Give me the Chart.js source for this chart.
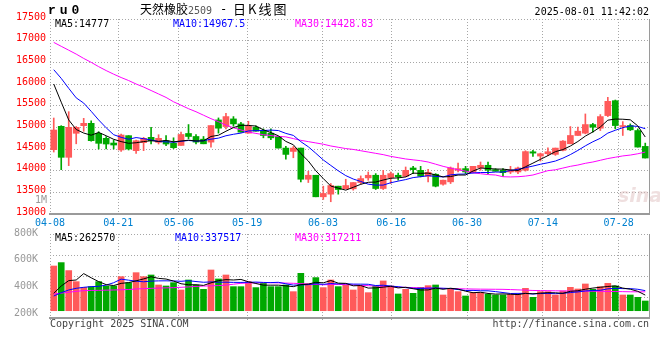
<!DOCTYPE html>
<html><head><meta charset="utf-8">
<script src="https://cdn.jsdelivr.net/npm/chart.js@4.4.1/dist/chart.umd.min.js"></script>
<style>
html,body{margin:0;padding:0;background:#fff;}
#wrap{position:relative;width:660px;height:360px;overflow:hidden;background:#fff;}
canvas{position:absolute;left:0;}
.t{position:absolute;white-space:nowrap;font-family:"DejaVu Sans Mono",monospace;font-size:10px;line-height:12px;z-index:5;}
</style></head><body>
<div id="wrap">
<canvas id="k" width="660" height="232" style="top:0;width:660px;height:232px"></canvas>
<canvas id="v" width="660" height="136" style="top:224px;width:660px;height:136px"></canvas>
<div class="t" style="left:48px;top:4px;font-family:'Liberation Mono',monospace;font-weight:bold;font-size:13px;line-height:14px;letter-spacing:4px;color:#000">ru0</div>
<div class="t" style="left:140px;top:1px;font-family:'Noto Sans CJK SC',sans-serif;font-size:12px;line-height:15px;color:#000">天然橡胶<span style="font-family:'DejaVu Sans Mono',monospace;font-size:10px;color:#555">2509</span></div>
<div class="t" style="left:220px;top:2px;font-size:12px;line-height:14px;color:#000">-</div>
<div class="t" style="left:233px;top:1px;font-family:'Noto Sans CJK SC',sans-serif;font-size:13px;line-height:15px;letter-spacing:2px;color:#000">日K线图</div>
<div class="t" style="right:11px;top:6px;color:#000">2025-08-01 11:42:02</div>
<div class="t" style="left:55px;top:18px;color:#000">MA5:14777</div>
<div class="t" style="left:173px;top:18px;color:#0000ff">MA10:14967.5</div>
<div class="t" style="left:295px;top:18px;color:#ff00ff">MA30:14428.83</div>
<div class="t" style="right:613px;top:194px;color:#999">1M</div>
<div class="t" style="left:618px;top:184px;font-family:'DejaVu Sans',sans-serif;font-style:italic;font-weight:bold;font-size:19px;line-height:22px;color:rgba(220,185,185,0.45)">sina</div>
<div class="t" style="left:55px;top:232px;color:#000">MA5:262570</div>
<div class="t" style="left:175px;top:232px;color:#0000ff">MA10:337517</div>
<div class="t" style="left:295px;top:232px;color:#ff00ff">MA30:317211</div>
<div class="t" style="left:50px;top:318px;color:#444">Copyright 2025 SINA.COM</div>
<div class="t" style="right:11px;top:318px;color:#444">http://finance.sina.com.cn</div>
</div>
<script>
const DATES = [
'04-08','04-09','04-10','04-11','04-14','04-15','04-16','04-17','04-18','04-21',
'04-22','04-23','04-24','04-25','04-28','04-29','04-30','05-06','05-07','05-08',
'05-09','05-12','05-13','05-14','05-15','05-16','05-19','05-20','05-21','05-22',
'05-23','05-26','05-27','05-28','05-29','05-30','06-03','06-04','06-05','06-06',
'06-09','06-10','06-11','06-12','06-13','06-16','06-17','06-18','06-19','06-20',
'06-23','06-24','06-25','06-26','06-27','06-30','07-01','07-02','07-03','07-04',
'07-07','07-08','07-09','07-10','07-11','07-14','07-15','07-16','07-17','07-18',
'07-21','07-22','07-23','07-24','07-25','07-28','07-29','07-30','07-31','08-01'];
const TICK_LABELS = ['04-08','04-21','05-06','05-19','06-03','06-16','06-30','07-14','07-28'];
const PRICE_MIN = 13000, PRICE_MAX = 17500, PRICE_STEP = 500;
const VOL_LABELS = [800000,600000,400000,200000];

const OPEN = [
14485,15023,14308,14862,15038,15092,14862,14746,14638,14477,
14808,14462,14646,14770,14654,14692,14636,14582,14858,14789,
14727,14659,15171,15018,15194,15079,14866,15003,14926,14865,
14789,14521,14444,14521,13802,13894,13397,13458,13642,13581,
13581,13726,13833,13894,13588,13840,13894,13871,14062,14008,
13871,13917,13688,13742,14009,14047,13970,14070,14124,14024,
14009,13970,13970,14010,14436,14337,14391,14376,14468,14621,
14812,14865,15064,14980,15271,15615,15018,15041,14926,14560];
const HIGH = [
15215,15038,15361,15020,15208,15150,14900,14785,14708,14846,
14808,14708,14770,15000,14830,14808,14759,14890,15064,14835,
14789,15041,15217,15324,15248,15117,15140,15033,14964,14964,
14789,14559,14559,14521,13985,13894,13642,13703,13642,13802,
13726,13879,13970,13932,14008,13970,13947,14085,14100,14100,
14031,13932,13780,14085,14177,14100,14100,14200,14200,14047,
14047,14100,14085,14460,14467,14406,14529,14521,14697,15018,
15003,15309,15094,15294,15692,15630,15133,15079,14965,14636];
const LOW = [
14430,14023,14116,14620,14908,14680,14500,14500,14500,14446,
14477,14400,14462,14615,14615,14577,14510,14580,14735,14620,
14620,14543,14866,14964,15025,14889,14866,14911,14758,14713,
14521,14268,14298,13741,13726,13397,13336,13283,13458,13581,
13550,13688,13779,13565,13565,13703,13779,13856,13932,13856,
13741,13626,13665,13703,13970,13932,13950,14009,13932,13986,
13870,13932,13932,13990,14330,14222,14345,14353,14453,14621,
14812,14850,14888,14926,15248,14965,14812,14926,14544,14292];
const CLOSE = [
14938,14308,15000,15000,15092,14692,14631,14615,14592,14823,
14500,14692,14746,14692,14746,14615,14530,14835,14789,14659,
14620,15041,14980,15248,15079,14889,15025,14911,14812,14758,
14521,14375,14521,13802,13894,13397,13474,13657,13565,13657,
13726,13818,13894,13588,13894,13932,13856,14008,14024,13871,
13963,13642,13780,14062,14047,13970,14100,14124,14009,13986,
13955,14009,14062,14440,14405,14391,14437,14521,14682,14812,
14911,15064,15003,15248,15600,15041,15041,14942,14544,14292];
const MA5 = [
16000,15580,15170,14950,14868,14818,14883,14806,14724,14671,
14632,14644,14671,14691,14675,14698,14666,14684,14703,14686,
14687,14789,14818,14910,14994,15047,15044,15030,14943,14879,
14805,14675,14597,14395,14223,13998,13818,13645,13597,13550,
13616,13685,13732,13737,13784,13825,13833,13856,13943,13938,
13944,13902,13856,13864,13899,13900,13992,14061,14050,14038,
14035,14017,14004,14090,14174,14261,14347,14439,14487,14569,
14673,14798,14894,15008,15165,15191,15187,15174,15034,14777];
const MA10 = [
16330,16130,15900,15680,15560,15370,15170,14990,14830,14769,
14725,14764,14738,14708,14673,14665,14655,14677,14697,14680,
14692,14727,14751,14806,14840,14867,14917,14924,14926,14936,
14926,14860,14814,14669,14551,14402,14247,14121,13996,13886,
13807,13751,13688,13667,13667,13721,13759,13794,13840,13861,
13885,13867,13856,13903,13919,13922,13947,13958,13957,13968,
13968,14004,14032,14070,14106,14148,14182,14222,14289,14371,
14467,14573,14667,14747,14867,14932,14992,15034,15021,14968];
const MA30 = [
16960,16870,16780,16690,16590,16500,16400,16310,16227,16150,
16080,16000,15930,15850,15770,15690,15590,15510,15430,15360,
15280,15200,15130,15050,14990,14940,14890,14860,14830,14810,
14790,14780,14740,14700,14670,14640,14610,14570,14540,14510,
14490,14460,14430,14400,14370,14330,14300,14270,14250,14230,
14200,14150,14100,14060,14020,13990,13950,13930,13910,13900,
13860,13855,13860,13875,13900,13950,14000,14020,14060,14100,
14130,14170,14200,14240,14280,14310,14340,14360,14390,14429];
const VOLUME = [
751000,808000,674000,488000,393000,404000,488000,415000,415000,572000,
471000,639000,572000,600000,432000,415000,471000,348000,516000,432000,
359000,684000,533000,600000,404000,404000,488000,388000,460000,404000,
404000,432000,320000,628000,449000,556000,388000,516000,404000,432000,
348000,415000,303000,415000,500000,415000,281000,359000,292000,393000,
421000,432000,264000,376000,320000,247000,303000,303000,276000,264000,
264000,276000,276000,376000,225000,320000,320000,264000,332000,393000,
365000,449000,359000,404000,460000,415000,264000,264000,225000,163000];
const VMA5 = [
292000,415000,505000,516000,623000,553000,489000,438000,423000,459000,
472000,502000,534000,571000,543000,532000,498000,453000,436000,436000,
425000,468000,505000,522000,516000,525000,486000,457000,429000,429000,
429000,418000,404000,438000,447000,477000,468000,507000,463000,459000,
418000,423000,380000,383000,396000,410000,383000,394000,369000,348000,
349000,379000,360000,377000,363000,328000,302000,310000,290000,279000,
282000,277000,271000,291000,283000,295000,303000,301000,292000,326000,
335000,361000,380000,394000,407000,417000,380000,361000,326000,262570];
const VMA10 = [
247000,303000,348000,376000,393000,404000,410000,430000,470000,530000,
513000,496000,486000,497000,501000,502000,500000,494000,504000,490000,
478000,483000,479000,479000,476000,475000,477000,481000,475000,472000,
477000,452000,430000,433000,438000,453000,443000,456000,450000,453000,
447000,446000,444000,423000,428000,414000,403000,387000,376000,372000,
379000,381000,377000,373000,355000,339000,341000,335000,334000,321000,
305000,289000,291000,291000,281000,288000,290000,286000,292000,305000,
315000,332000,340000,343000,367000,376000,371000,371000,360000,337517];
const VMA30 = [
280000,295000,310000,325000,337000,340000,342000,345000,348000,352000,
356000,365000,370000,376000,380000,384000,387000,393000,400000,408000,
414000,418000,422000,430000,445000,460000,465000,468000,470000,470000,
468000,464000,460000,455000,448000,440000,435000,440000,442000,438000,
432000,425000,420000,414000,408000,402000,396000,392000,388000,385000,
380000,376000,374000,372000,369000,366000,364000,362000,361000,360000,
359000,355000,350000,345000,340000,338000,336000,334000,332000,331000,
330000,328000,327000,326000,324000,322000,320000,318000,317000,317211];

const FONT = "'DejaVu Sans Mono', monospace";
const RED = '#ff5a5a', GREEN = '#00a800', GRID = '#a6a6a6', EDGE = '#9a9a9a', DASH = [1, 2];
const N = DATES.length;
const TICK_IDX = TICK_LABELS.map(l => DATES.indexOf(l));
const COLORS = DATES.map((d, i) => CLOSE[i] >= OPEN[i] ? RED : GREEN);

function dateAxis(showLabels) {
  return {
    type: 'linear', position: 'bottom', min: 0, max: N - 1, offset: false,
    afterBuildTicks: s => { s.ticks = TICK_IDX.map(v => ({ value: v })); },
    afterFit: s => { s.height = showLabels ? 18 : 4; },
    grid: { offset: false, color: GRID, drawTicks: !showLabels, tickLength: 4, tickColor: GRID, tickBorderDash: DASH },
    border: { display: true, color: EDGE, width: 2, dash: DASH },
    ticks: {
      display: showLabels, autoSkip: false, maxRotation: 0, minRotation: 0, padding: 3,
      color: '#0080d0', font: { family: FONT, size: 10 },
      callback: v => { const k = TICK_IDX.indexOf(v); return k >= 0 ? TICK_LABELS[k] : ''; }
    }
  };
}
function rightEdge(min, max) {
  return {
    type: 'linear', position: 'right', min, max,
    afterFit: s => { s.width = 0; },
    grid: { display: false }, ticks: { display: false },
    border: { display: true, color: EDGE, width: 1 }
  };
}
function line(data, color, yId) {
  return { type: 'line', data, borderColor: color, borderWidth: 1, pointRadius: 0, tension: 0,
    fill: false, order: 0, xAxisID: 'x', yAxisID: yId };
}
const common = {
  responsive: false, animation: false, events: [],
  plugins: { legend: { display: false }, tooltip: { enabled: false } }
};

new Chart(document.getElementById('k'), {
  type: 'bar',
  data: {
    labels: DATES,
    datasets: [
      line(MA5, '#000000', 'y'),
      line(MA10, '#0000ff', 'y'),
      line(MA30, '#ff00ff', 'y'),
      { type: 'bar', data: DATES.map((d, i) => [OPEN[i], CLOSE[i]]), backgroundColor: COLORS,
        barThickness: 6, minBarLength: 1, grouped: false, borderWidth: 0, order: 1, xAxisID: 'x', yAxisID: 'y' },
      { type: 'bar', data: DATES.map((d, i) => [LOW[i], HIGH[i]]), backgroundColor: COLORS,
        barThickness: 1, minBarLength: 1, grouped: false, borderWidth: 0, order: 2, xAxisID: 'x', yAxisID: 'y' }
    ]
  },
  options: Object.assign({}, common, {
    layout: { padding: { left: 0, right: 11, top: 19, bottom: 0 } },
    scales: {
      x: { type: 'category', offset: true, display: false },
      xd: dateAxis(true),
      y: {
        type: 'linear', position: 'left', min: PRICE_MIN, max: PRICE_MAX,
        afterFit: s => { s.width = 50; },
        grid: { color: GRID, drawTicks: false },
        border: { display: false, dash: DASH },
        ticks: { stepSize: PRICE_STEP, color: '#ff0000', padding: 4, labelOffset: -2,
          font: { family: FONT, size: 10 }, callback: v => String(v) }
      },
      yr: rightEdge(PRICE_MIN, PRICE_MAX)
    }
  })
});

const VMIN = -122600, VMAX = 1288600;
new Chart(document.getElementById('v'), {
  type: 'bar',
  data: {
    labels: DATES,
    datasets: [
      line(VMA5, '#000000', 'yv'),
      line(VMA10, '#0000ff', 'yv'),
      line(VMA30, '#ff00ff', 'yv'),
      { type: 'bar', data: VOLUME, backgroundColor: COLORS, barThickness: 6, grouped: false,
        borderWidth: 0, order: 1, xAxisID: 'x', yAxisID: 'yv' }
    ]
  },
  options: Object.assign({}, common, {
    layout: { padding: { left: 0, right: 11, top: 10, bottom: 38 } },
    scales: {
      x: { type: 'category', offset: true, display: false },
      xd: dateAxis(false),
      yl: {
        type: 'linear', position: 'left', min: 170000, max: 800000,
        afterBuildTicks: s => { s.ticks = VOL_LABELS.map(v => ({ value: v })); },
        afterFit: s => { s.width = 50; },
        grid: { display: false }, border: { display: false },
        ticks: { color: '#999999', padding: 4, labelOffset: -1, font: { family: FONT, size: 10 },
          callback: v => (v / 1000) + 'K' }
      },
      yv: {
        type: 'linear', position: 'left', min: VMIN, max: VMAX,
        afterBuildTicks: s => { s.ticks = [0, 1, 2, 3, 4].map(k => ({ value: VMIN + k * (VMAX - VMIN) / 4 })); },
        afterFit: s => { s.width = 0; },
        grid: { color: GRID, drawTicks: false },
        border: { display: false, dash: DASH },
        ticks: { display: false }
      },
      yr: rightEdge(VMIN, VMAX)
    }
  })
});
</script>
</body></html>
